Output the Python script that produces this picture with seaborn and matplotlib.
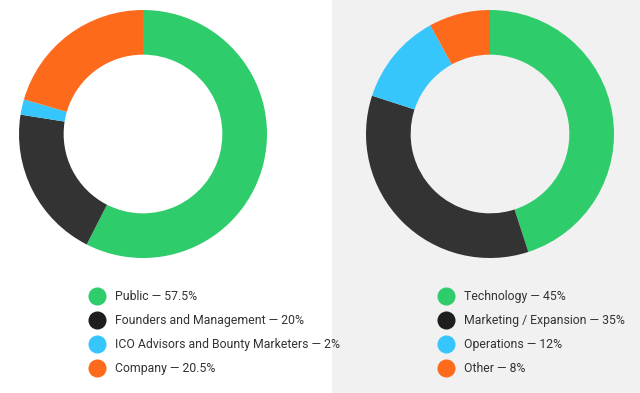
import matplotlib
matplotlib.use("Agg")
import matplotlib.pyplot as plt
from matplotlib.lines import Line2D
from matplotlib.patches import Rectangle
import seaborn as sns

# token distribution (left) and use of funds (right)
dist_labels = ["Public", "Founders and Management", "ICO Advisors and Bounty Marketers", "Company"]
dist_values = [57.5, 20, 2, 20.5]
funds_labels = ["Technology", "Marketing / Expansion", "Operations", "Other"]
funds_values = [45, 35, 12, 8]

colors = sns.color_palette(["#2ecc6b", "#333333", "#36c6fb", "#fd6a1c"])
legend_colors = sns.color_palette(["#2ecc6b", "#1e1e1e", "#36c6fb", "#fd6a1c"])

sns.set_theme(style="white")
plt.rcParams["font.family"] = ["Roboto", "DejaVu Sans"]

W, H = 640, 393
fig = plt.figure(figsize=(W / 100, H / 100), dpi=100)
fig.patch.set_facecolor("white")
fig.patches.append(Rectangle((332 / W, 0), 1 - 332 / W, 1, transform=fig.transFigure,
                             facecolor="#f1f1f1", edgecolor="none", zorder=-10))


def donut(cx, cy, values, labels, lx, ly):
    r = 124
    ax = fig.add_axes([(cx - r) / W, (H - cy - r) / H, 2 * r / W, 2 * r / H])
    ax.set_zorder(1)
    ax.pie(values, colors=colors, startangle=90, counterclock=False, radius=1,
           wedgeprops=dict(width=0.36, edgecolor="none"))
    ax.set_xlim(-1, 1)
    ax.set_ylim(-1, 1)
    ax.set_aspect("equal")
    ax.axis("off")
    handles = [Line2D([], [], marker="o", linestyle="none", markersize=13,
                      markerfacecolor=c, markeredgecolor="none") for c in legend_colors]
    texts = [f"{n} \u2014 {v:g}%" for n, v in zip(labels, values)]
    fig.legend(handles, texts, loc="upper left", bbox_to_anchor=(lx / W, 1 - ly / H),
               frameon=False, fontsize=8.8, labelcolor="#333333", handletextpad=0.85,
               labelspacing=0.9, borderaxespad=0, borderpad=0, handlelength=1.2)


donut(143, 134, dist_values, dist_labels, 90, 290)
donut(490, 134, funds_values, funds_labels, 439, 290)

fig.savefig("out.png", dpi=100)
